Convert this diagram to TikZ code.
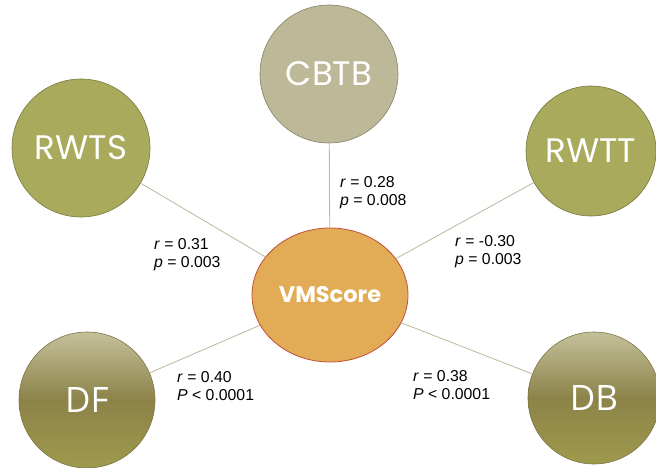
\documentclass[tikz,border=0pt]{standalone}
\usepackage{fontspec}
\usetikzlibrary{shapes.geometric}
\setmainfont{Liberation Sans}
\newfontfamily\geofont{Poppins}
\newfontfamily\openfont{Open Sans}
\begin{document}
\begin{tikzpicture}[x=1pt,y=-1pt,
  bubble/.style={circle, draw=#1!70!black, line width=0.6pt, minimum size=138pt, inner sep=0pt, text=white, font=\geofont\fontsize{34}{34}\selectfont},
  flatbubble/.style={bubble=#1, fill=#1},
  shadebubble/.style={circle, draw=oliveedge, line width=0.6pt, minimum size=136pt, inner sep=0pt, text=white,
    top color=olivetop, bottom color=olivebot, middle color=olivemid, font=\openfont\fontsize{35}{35}\selectfont},
  link/.style={draw=linktan, line width=0.8pt},
  stat/.style={anchor=west, align=left, inner sep=0pt, font=\fontsize{15.8}{18}\selectfont}]
\definecolor{cbtbfill}{HTML}{BDB897}
\definecolor{rwfill}{HTML}{A9AA5B}
\definecolor{olivetop}{HTML}{C4C09A}
\definecolor{olivemid}{HTML}{8C8349}
\definecolor{olivebot}{HTML}{9E9A4C}
\definecolor{oliveedge}{HTML}{7A7345}
\definecolor{coreorange}{HTML}{E1AC55}
\definecolor{coreedge}{HTML}{C0503A}
\definecolor{linktan}{HTML}{BDB79B}

\useasboundingbox (0,0) rectangle (656,468);

% outer measures
\node[flatbubble=cbtbfill] (cbtb) at (329,74) {CBTB};
\node[flatbubble=rwfill] (rwts) at (81,148) {RWTS};
\node[flatbubble=rwfill, minimum size=130pt] (rwtt) at (591,151) {RWTT};
\node[shadebubble] (df) at (87,400) {DF};
\node[shadebubble, minimum size=132pt] (db) at (594,398) {DB};

% central score
\node[ellipse, draw=coreedge, fill=coreorange, line width=0.8pt,
      minimum width=156pt, minimum height=134pt, inner sep=0pt,
      text=white, font=\geofont\bfseries\fontsize{22.5}{22.5}\selectfont] (vm) at (330,295) {VMScore};

% connectors
\draw[link] (cbtb) -- (vm);
\draw[link] (rwts) -- (vm);
\draw[link] (rwtt) -- (vm);
\draw[link] (df) -- (vm);
\draw[link] (db) -- (vm);

% correlation statistics
\node[stat] (s1) at (340,193) {\textit{r} = 0.28\\\textit{p} = 0.008};
\node[stat] (s2) at (154,255) {\textit{r} = 0.31\\\textit{p} = 0.003};
\node[stat] (s3) at (455,252) {\textit{r} = -0.30\\\textit{p} = 0.003};
\node[stat] (s4) at (177,386) {\textit{r} = 0.40\\\textit{P} {\textless} 0.0001};
\node[stat] (s5) at (413,385) {\textit{r} = 0.38\\\textit{P} {\textless} 0.0001};
\end{tikzpicture}
\end{document}
